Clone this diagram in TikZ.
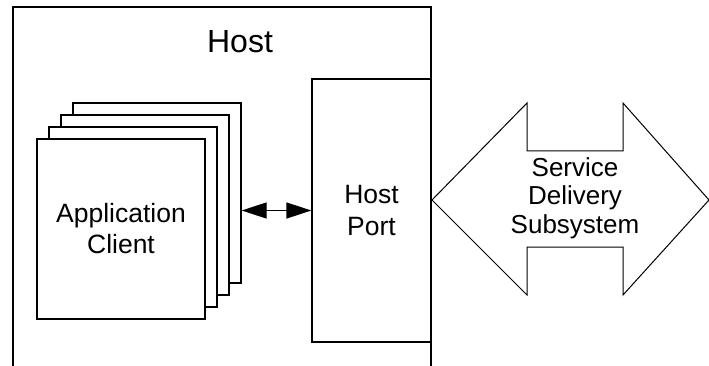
\documentclass[tikz,border=0pt]{standalone}
\usepackage{fontspec}
\setmainfont{Liberation Sans}
\usepackage{tikz}
\usetikzlibrary{arrows.meta,positioning,calc}
\tikzstyle{page} = [draw, line width=1.3pt, fill=white, minimum width=168pt, minimum height=180pt, inner sep=0pt]
\tikzstyle{link} = [line width=1.3pt, {Triangle[length=25pt,width=16pt]}-{Triangle[length=25pt,width=16pt]}]

\begin{document}
\begin{tikzpicture}[x=1pt, y=-1pt, line width=1.3pt]
\useasboundingbox (0,0) rectangle (709,366);

% Host frame (open at the bottom)
\draw (13,366) -- (13,7) -- (431,7) -- (431,366);
\node[font=\fontsize{32}{36}\selectfont] (host) at (240,42) {Host};

% Stack of clients
\foreach \i in {3,2,1}
  \node[page] (page\i) at (121+12*\i, 229-12*\i) {};
\node[page, align=center, font=\fontsize{26.5}{31}\selectfont] (app) at (121,229) {Application\\Client};

% Host port
\node[draw, minimum width=119pt, minimum height=263pt, inner sep=0pt, align=center,
      font=\fontsize{26.5}{32}\selectfont] (port) at (371.5,210.5) {Host\\Port};

\draw[link] (port.west -| page3.east) -- (port.west);

% Service delivery subsystem
\node[align=center, font=\fontsize{26}{28.5}\selectfont] (sds) at (575,198) {Service\\Delivery\\Subsystem};
\draw[line width=1pt]
  ($(sds)+(-143,2)$) -- ($(sds)+(-48,-95)$) -- ($(sds)+(-48,-47)$) -- ($(sds)+(48,-47)$)
  -- ($(sds)+(48,-95)$) -- ($(sds)+(134,2)$) -- ($(sds)+(48,97)$) -- ($(sds)+(48,49)$)
  -- ($(sds)+(-48,49)$) -- ($(sds)+(-48,97)$) -- cycle;
\end{tikzpicture}
\end{document}
